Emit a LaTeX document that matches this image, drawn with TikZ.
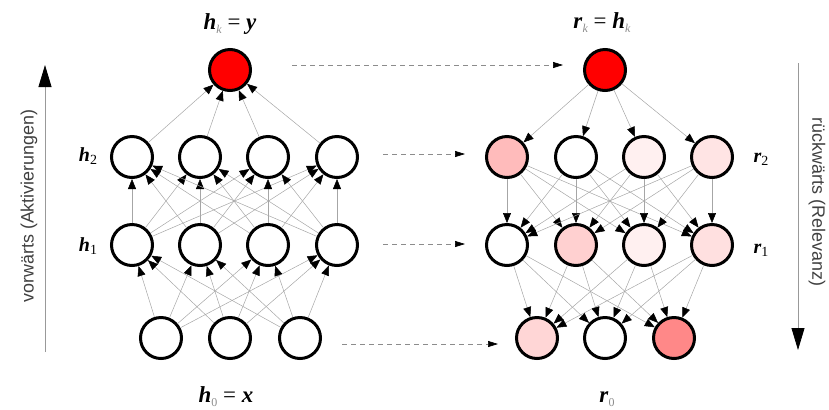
\documentclass[tikz,border=0pt]{standalone}
\usepackage{fontspec}
\setmainfont{Liberation Serif}
\newfontfamily\lsans{Liberation Sans}
\usetikzlibrary{arrows.meta}
\newcommand\bi[1]{\textbf{\textit{#1}}}
\newcommand\bigsub[1]{\raisebox{-0.4ex}{\textcolor{black!45}{\fontsize{12}{12}\selectfont #1}}}
\newcommand\rowsub[1]{\raisebox{-0.4ex}{\fontsize{14}{14}\selectfont #1}}
\definecolor{cA}{HTML}{FFBBBB}
\definecolor{cB}{HTML}{FFF0F0}
\definecolor{cC}{HTML}{FFE4E4}
\definecolor{cD}{HTML}{FFD0D0}
\definecolor{cE}{HTML}{FFE0E0}
\definecolor{cF}{HTML}{FFD6D6}
\definecolor{cG}{HTML}{FF8888}
\begin{document}
\begin{tikzpicture}[x=1bp,y=-1bp,
  neuron/.style={circle,draw=black,line width=3bp,minimum size=41bp,inner sep=0pt,fill=white},
  edge/.style={draw=black!35,line width=0.5bp,-{Triangle[length=10bp,width=8bp,black]}},
  dasharr/.style={draw=black!45,line width=0.7bp,dash pattern=on 5bp off 4bp,-{Triangle[length=10bp,width=6bp,black]}},
  bigarr/.style={draw=black!40,line width=0.8bp,-{Triangle[length=22bp,width=13bp,black]}},
  biglbl/.style={font=\fontsize{23}{25}\selectfont,anchor=base,inner sep=0pt},
  rowlbl/.style={font=\fontsize{20}{22}\selectfont,anchor=base,inner sep=0pt},
  sidelbl/.style={font=\lsans\fontsize{18}{20}\selectfont,text=black!75,inner sep=0pt}]
\useasboundingbox (0,0) rectangle (829,409);
% left network
\node[neuron,fill=red] (hk) at (230,70) {};
\foreach \i/\x in {1/132,2/200,3/268,4/337} {
  \node[neuron] (c\i) at (\x,157) {};
  \node[neuron] (b\i) at (\x,245) {};
}
\foreach \i/\x in {1/161,2/230,3/300} \node[neuron] (a\i) at (\x,338) {};
% right network
\node[neuron,fill=red] (rk) at (605,70) {};
\node[neuron,fill=cA] (d1) at (507,157) {};
\node[neuron] (d2) at (576,157) {};
\node[neuron,fill=cB] (d3) at (644,157) {};
\node[neuron,fill=cC] (d4) at (712,157) {};
\node[neuron] (e1) at (507,245) {};
\node[neuron,fill=cD] (e2) at (576,245) {};
\node[neuron,fill=cB] (e3) at (644,245) {};
\node[neuron,fill=cE] (e4) at (712,245) {};
\node[neuron,fill=cF] (f1) at (537,338) {};
\node[neuron] (f2) at (605,338) {};
\node[neuron,fill=cG] (f3) at (674,338) {};
% edges
\foreach \i in {1,2,3} \foreach \j in {1,2,3,4} {
  \draw[edge] (a\i) -- (b\j);
  \draw[edge] (e\j) -- (f\i);
}
\foreach \i in {1,2,3,4} {
  \foreach \j in {1,2,3,4} {
    \draw[edge] (b\i) -- (c\j);
    \draw[edge] (d\i) -- (e\j);
  }
  \draw[edge] (c\i) -- (hk);
  \draw[edge] (rk) -- (d\i);
}
% dashed transfers
\draw[dasharr,shorten <=40bp,shorten >=20bp] ([yshift=5bp]hk.east) -- ([yshift=5bp]rk.west);
\draw[dasharr,shorten <=24bp,shorten >=20bp] ([yshift=3bp]c4.east) -- ([yshift=3bp]d1.west);
\draw[dasharr,shorten <=24bp,shorten >=20bp] ([yshift=1bp]b4.east) -- ([yshift=1bp]e1.west);
\draw[dasharr,shorten <=20bp,shorten >=17bp] ([yshift=-6bp]a3.east) -- ([yshift=-6bp]f1.west);
% side arrows
\coordinate (lb) at (45,352);
\coordinate (lt) at (45,65);
\coordinate (rt) at (798,63);
\coordinate (rb) at (798,350);
\draw[bigarr] (lb) -- (lt);
\draw[bigarr] (rt) -- (rb);
\node[sidelbl,rotate=90] (vw) at (29,206) {vorwärts (Aktivierungen)};
\node[sidelbl,rotate=-90] (rw) at (817,202) {rückwärts (Relevanz)};
% labels
\node[biglbl] (lhk) at (230,29) {\bi{h}\bigsub{\textit{k}} = \bi{y}};
\node[biglbl] (lrk) at (602,28) {\bi{r}\bigsub{\textit{k}} = \bi{h}\bigsub{\textit{k}}};
\node[biglbl] (lh0) at (226,402) {\bi{h}\bigsub{0} = \bi{x}};
\node[biglbl] (lr0) at (607,402) {\bi{r}\bigsub{0}};
\node[rowlbl] (lh2) at (88,161) {\bi{h}\rowsub{2}};
\node[rowlbl] (lh1) at (88,251) {\bi{h}\rowsub{1}};
\node[rowlbl] (lr2) at (761,162) {\bi{r}\rowsub{2}};
\node[rowlbl] (lr1) at (761,253) {\bi{r}\rowsub{1}};
\end{tikzpicture}
\end{document}
